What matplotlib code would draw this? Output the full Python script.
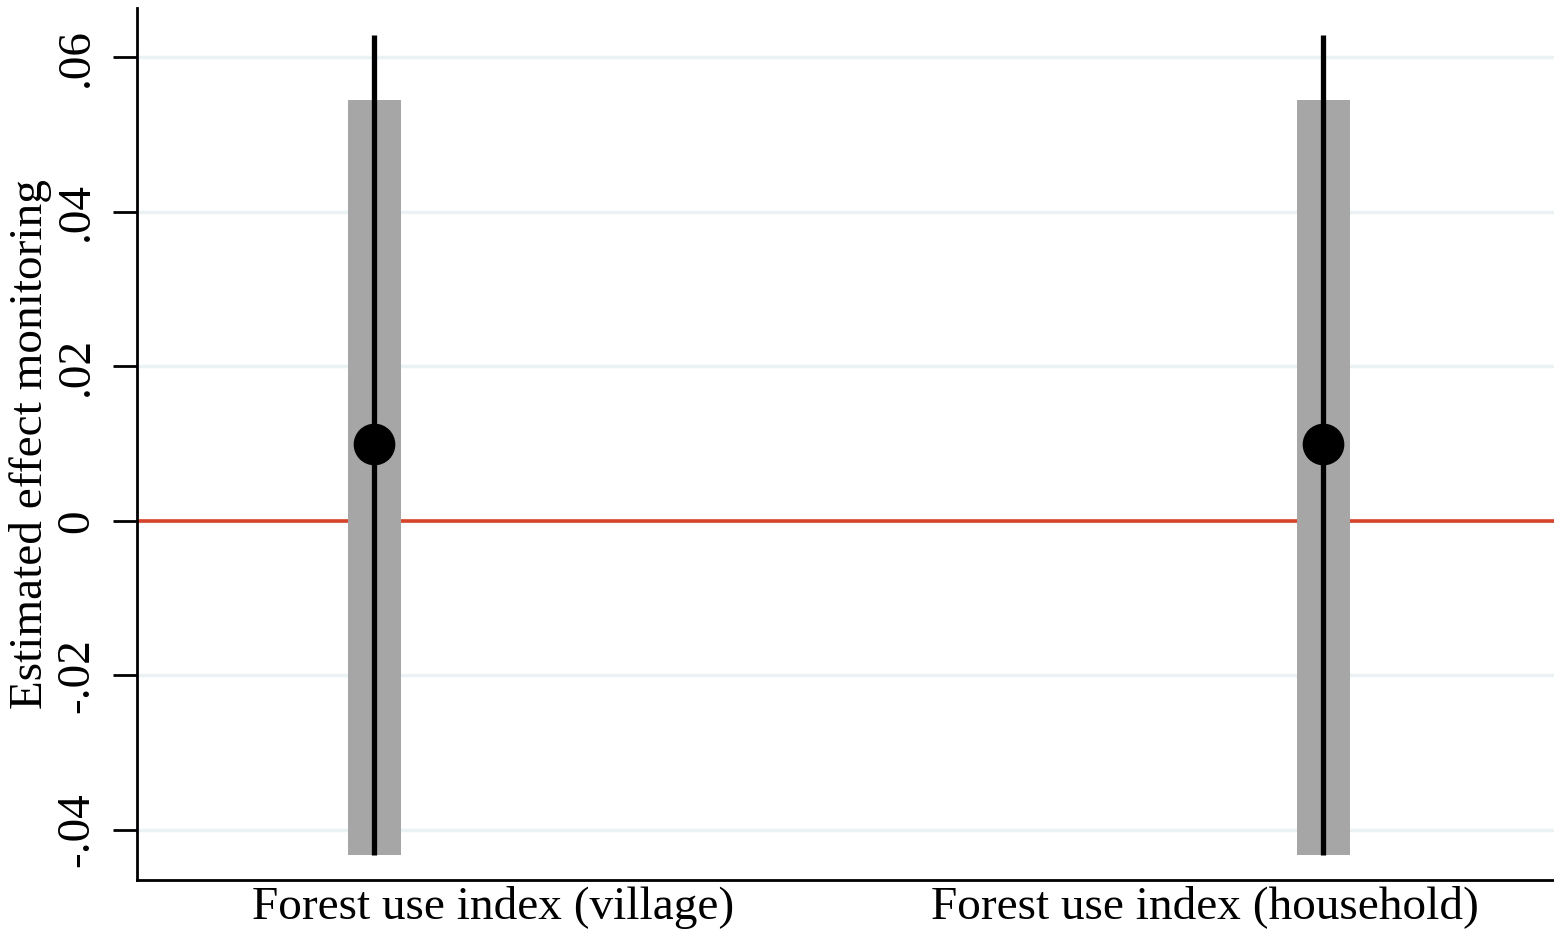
import numpy as np
import matplotlib
matplotlib.use('Agg')
import matplotlib.pyplot as plt

# data
categories = ['Forest use index (village)', 'Forest use index (household)']
estimates = [0.010, 0.010]
ci90_low = [-0.0432, -0.0432]
ci90_high = [0.0545, 0.0545]
ci95_low = [-0.0432, -0.0432]
ci95_high = [0.0629, 0.0629]
yticks = [-0.04, -0.02, 0, 0.02, 0.04, 0.06]
ytick_labels = ['-.04', '-.02', '0', '.02', '.04', '.06']

plt.rcParams['font.family'] = ['Liberation Serif', 'DejaVu Serif']

fig = plt.figure(figsize=(15.54, 9.33), dpi=100)
ax = fig.add_axes([0.0882, 0.0568, 0.9118, 0.9346])

x = np.arange(1, len(categories) + 1)

# grid
for t in yticks:
    ax.axhline(t, color='#eaf2f3', lw=2.5, zorder=0)

# zero line
ax.axhline(0, color='#d6432a', lw=2.6, zorder=1)

# gray bars (narrow interval)
low = np.array(ci90_low)
high = np.array(ci90_high)
ax.bar(x, high - low, bottom=low, width=0.056, color='#a6a6a6', zorder=2)

# black lines (wide interval)
ax.vlines(x, ci95_low, ci95_high, color='black', lw=3.8, zorder=3)

# point estimates
ax.plot(x, estimates, 'o', color='black', markersize=29, zorder=4)

ax.set_xlim(0.75, 2.243)
ax.set_ylim(-0.0465, 0.0664)

# stata puts the labels a bit towards the middle
ax.set_xticks(x + np.array([0.125, -0.125]))
ax.set_xticklabels(categories, fontsize=34)
ax.tick_params(axis='x', length=0, pad=4)

ax.set_yticks(yticks)
ax.set_yticklabels(ytick_labels, fontsize=34, rotation=90, va='center')
ax.tick_params(axis='y', length=17, width=2, pad=11)

ax.set_ylabel('Estimated effect monitoring', fontsize=34, labelpad=3)

for s in ['top', 'right']:
    ax.spines[s].set_visible(False)
for s in ['left', 'bottom']:
    ax.spines[s].set_linewidth(2)

fig.savefig('out.png', dpi=100)
